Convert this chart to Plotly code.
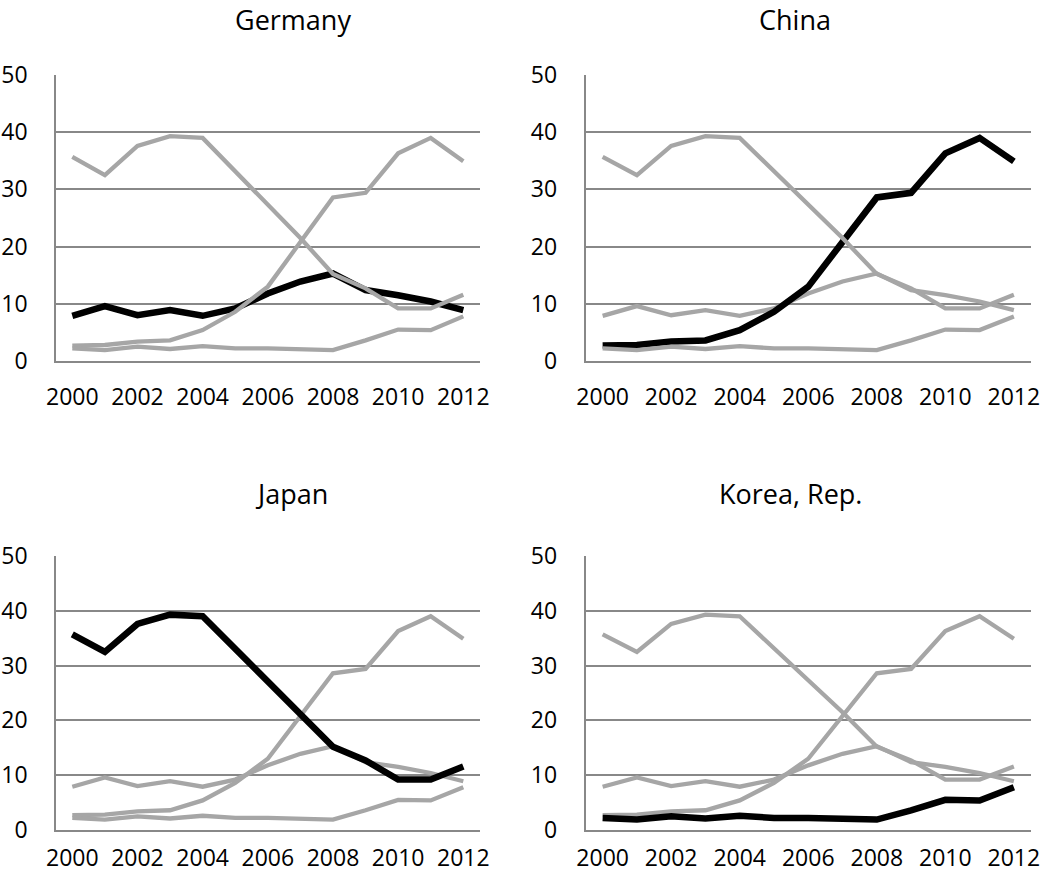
import plotly.graph_objects as go

years = list(range(2000, 2013))
germany = [7.9, 9.6, 8.0, 8.9, 7.9, 9.2, 11.8, 13.9, 15.3, 12.4, 11.5, 10.4, 8.9]
china = [2.7, 2.8, 3.4, 3.6, 5.4, 8.6, 13.0, 20.8, 28.6, 29.4, 36.3, 39.0, 34.9]
japan = [35.7, 32.5, 37.6, 39.3, 39.0, 33.1, 27.3, 21.5, 15.2, 12.7, 9.2, 9.2, 11.6]
korea = [2.2, 1.9, 2.5, 2.1, 2.6, 2.2, 2.2, 2.1, 1.9, 3.6, 5.5, 5.4, 7.8]

series_names = ["Germany", "China", "Japan", "Korea, Rep."]
series_values = [germany, china, japan, korea]
x_ticks = [2000, 2002, 2004, 2006, 2008, 2010, 2012]
y_ticks = [0, 10, 20, 30, 40, 50]

W, H = 1042, 877
FONT = "Open Sans"
GRID = "#888888"
GREY = "#a6a6a6"

# panel boxes in pixels: (x0, x1, y_top, y_bottom, x-label standoff)
panels = [
    (56, 479.6, 75, 361, 15),
    (585.5, 1031, 75, 361, 15),
    (56, 479.6, 556, 830, 7),
    (585.5, 1031, 556, 830, 7),
]
titles_pos = [(293, 19), (795, 19), (291, 493), (790, 493)]

fig = go.Figure()
layout = dict(
    width=W, height=H,
    autosize=False,
    margin=dict(l=0, r=0, t=0, b=0, pad=0, autoexpand=False),
    paper_bgcolor="white", plot_bgcolor="white",
    showlegend=False,
    font=dict(family=FONT, size=23, color="#000000"),
    annotations=[],
)

for i, (hl_name, (x0, x1, yt, yb, stand)) in enumerate(zip(series_names, panels)):
    k = "" if i == 0 else str(i + 1)
    xa, ya = "x" + k, "y" + k
    for name, vals in zip(series_names, series_values):
        is_hl = name == hl_name
        fig.add_trace(go.Scatter(
            x=years, y=vals, mode="lines", name=name,
            line=dict(color="#000000" if is_hl else GREY, width=6.5 if is_hl else 4.3),
            xaxis=xa, yaxis=ya, hoverinfo="skip",
        ))
    layout["xaxis" + k] = dict(
        domain=[x0 / W, x1 / W], range=[1999.5, 2012.5], anchor=ya,
        tickvals=x_ticks, ticktext=[str(t) for t in x_ticks],
        showgrid=False, zeroline=False, showline=True, linecolor=GRID, linewidth=1.5,
        ticks="", ticklabelstandoff=stand, automargin=False,
        tickfont=dict(family=FONT, size=23, color="#000"),
        fixedrange=True,
    )
    layout["yaxis" + k] = dict(
        domain=[1 - yb / H, 1 - yt / H], range=[0, 50], anchor=xa,
        tickvals=y_ticks, showgrid=True, gridcolor=GRID, gridwidth=1.5,
        zeroline=False, showline=True, linecolor=GRID, linewidth=1.5,
        ticks="", ticklabelstandoff=22, automargin=False,
        tickfont=dict(family=FONT, size=23, color="#000"),
        fixedrange=True,
    )
    tx, ty = titles_pos[i]
    layout["annotations"].append(dict(
        text=hl_name, x=tx / W, y=1 - ty / H, xref="paper", yref="paper",
        xanchor="center", yanchor="middle", showarrow=False,
        font=dict(family=FONT, size=27, color="#000"),
    ))

fig.update_layout(**layout)
fig.write_html(
    "out.html",
    config={"displayModeBar": False},
    post_script="document.body.style.margin='0';document.body.style.overflow='hidden';",
)
